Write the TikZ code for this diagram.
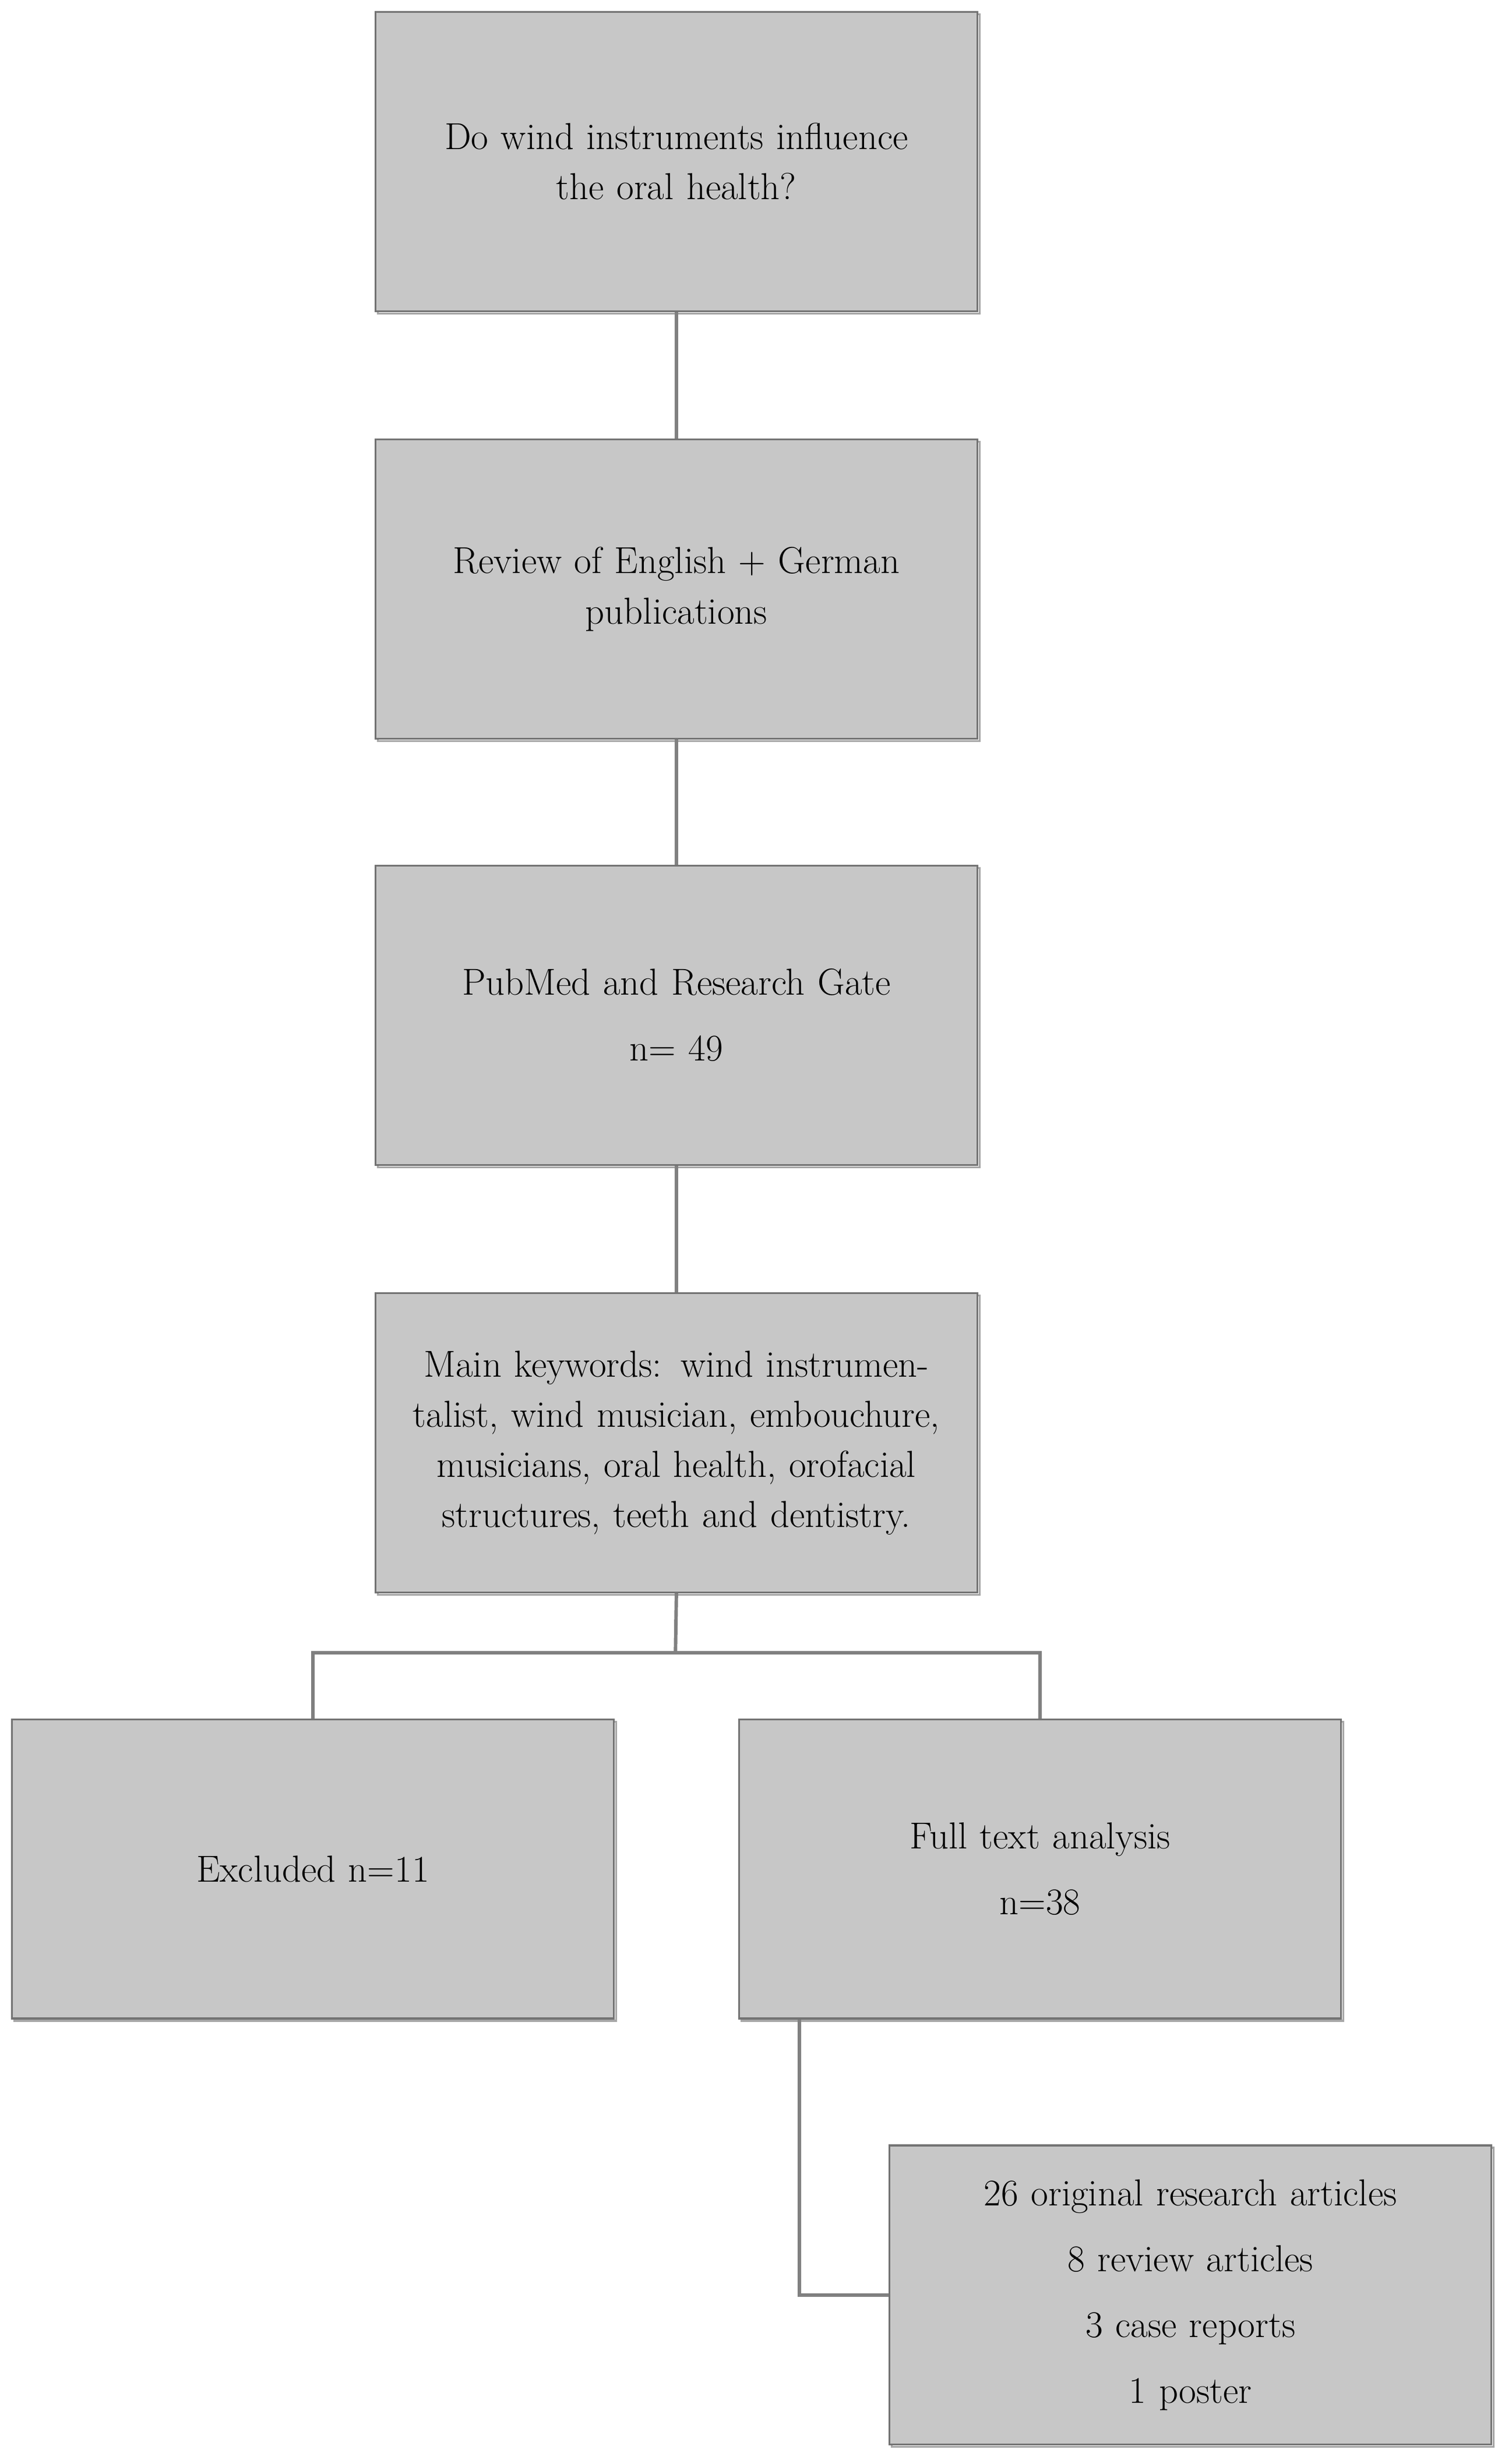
\documentclass[tikz,border=0pt]{standalone}
\begin{document}
\begin{tikzpicture}[x=1pt,y=-1pt,
  box/.style={draw=black!55,line width=1.2pt,fill=black!22,minimum width=384pt,minimum height=191pt,
    text width=370pt,align=center,font=\fontsize{24}{32}\selectfont,inner sep=0pt,anchor=north west,
    preaction={draw=black!35,line width=1.2pt,transform canvas={xshift=1.5pt,yshift=-1.5pt}}},
  conn/.style={draw=black!50,line width=2.2pt}]
\useasboundingbox (0,0) rectangle (960,1573);
\node[box] (q) at (239,7) {Do wind instruments influence\\the oral health?};
\node[box] (r) at (239,280) {Review of English + German\\publications};
\node[box] (p) at (239,552) {PubMed and Research Gate\\[10pt]n= 49};
\node[box] (k) at (239,825) {Main keywords: wind instrumentalist, wind musician, embouchure, musicians, oral health, orofacial structures, teeth and dentistry.};
\node[box] (e) at (7,1097) {Excluded n=11};
\node[box] (f) at (471,1097) {Full text analysis\\[10pt]n=38};
\node[box,text width=370pt] (o) at (567,1369) {26 original research articles\\[10pt]8 review articles\\[10pt]3 case reports\\[10pt]1 poster};
\coordinate (j) at (431,1055);
\draw[conn] (q.south) -- (r.north);
\draw[conn] (r.south) -- (p.north);
\draw[conn] (p.south) -- (k.north);
\draw[conn] (k.south) -- (j);
\draw[conn] (j) -| (e.north);
\draw[conn] (j) -| (f.north);
\draw[conn] (f.south west) ++(39,0) coordinate (fs) |- (o.west);
\end{tikzpicture}
\end{document}
